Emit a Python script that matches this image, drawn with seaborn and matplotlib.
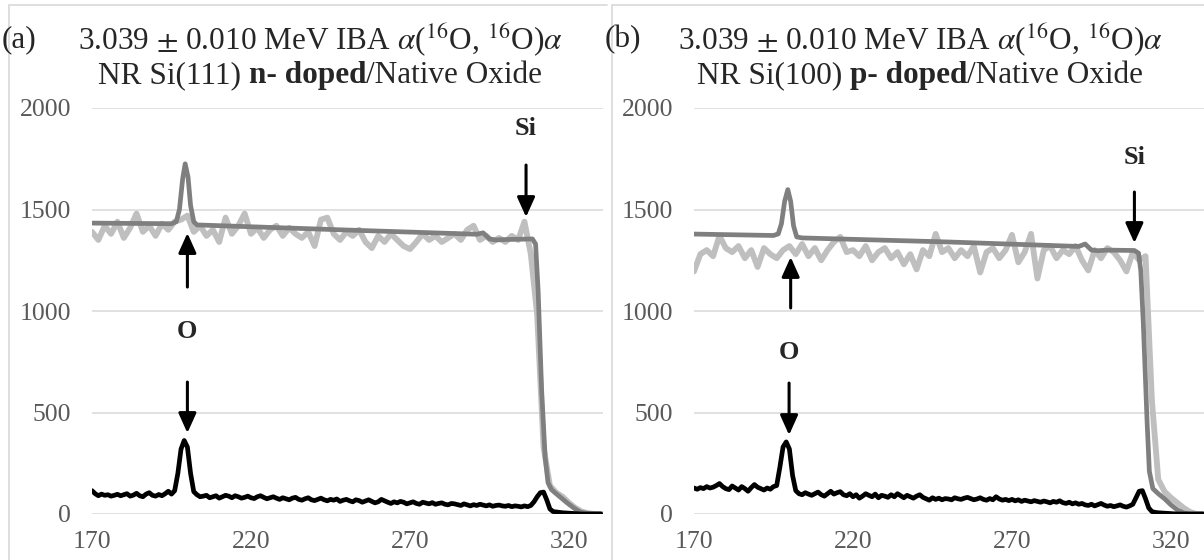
import numpy as np
import pandas as pd
import seaborn as sns
import matplotlib
matplotlib.use("Agg")
import matplotlib.pyplot as plt
from matplotlib.lines import Line2D

# channel grids
chan_fine = np.arange(170, 331)       # black curves, 1 channel step
chan_coarse = np.arange(170, 331, 2)  # light grey measured curves, 2 channel step

# (a) Si(111) n-doped
meas_a = [1390, 1350, 1420, 1380, 1440, 1360, 1410, 1480, 1390, 1420,
          1370, 1430, 1400, 1440, 1450, 1470, 1390, 1420, 1370, 1400,
          1340, 1460, 1380, 1420, 1480, 1380, 1410, 1360, 1400, 1420,
          1370, 1410, 1380, 1360, 1390, 1320, 1450, 1460, 1380, 1350,
          1390, 1370, 1400, 1340, 1310, 1370, 1340, 1380, 1350, 1320,
          1305, 1340, 1380, 1350, 1370, 1340, 1360, 1380, 1350, 1400,
          1420, 1350, 1370, 1340, 1360, 1340, 1370, 1350, 1440, 1280,
          980, 330, 140, 105, 85, 55, 30, 12, 4, 0,
          0]
sim_a_x = [170, 195, 196.5, 197.5, 198.5, 199.3, 200.2, 201, 202, 203,
           250, 291, 293, 295, 297, 300, 308.5, 309.5, 310.3, 311.4,
           312.5, 313.4, 314.5, 315.6, 317.5, 319.4, 321.5, 323.5, 326, 331]
sim_a_y = [1433, 1430, 1440, 1500, 1650, 1725, 1660, 1520, 1440, 1424,
           1399, 1378, 1385, 1355, 1350, 1352, 1355, 1330, 1100, 610,
           280, 155, 120, 105, 80, 55, 30, 10, 2, 0]
diff_a = [115, 100, 90, 98, 92, 95, 88, 92, 97, 90,
          95, 100, 88, 93, 102, 90, 85, 98, 105, 92,
          88, 96, 90, 100, 112, 98, 115, 200, 320, 362,
          330, 200, 110, 95, 85, 88, 92, 80, 85, 90,
          78, 85, 92, 88, 80, 90, 85, 78, 82, 88,
          80, 76, 85, 90, 82, 75, 80, 85, 78, 72,
          80, 75, 70, 78, 82, 72, 68, 75, 80, 70,
          66, 72, 78, 70, 65, 72, 68, 74, 62, 68,
          72, 65, 60, 70, 66, 58, 64, 70, 62, 55,
          60, 72, 65, 58, 52, 60, 55, 62, 58, 50,
          55, 60, 52, 48, 58, 54, 50, 56, 48, 52,
          55, 48, 45, 52, 50, 46, 42, 50, 45, 40,
          46, 42, 48, 44, 40, 45, 38, 42, 44, 40,
          38, 42, 36, 40, 38, 35, 40, 36, 42, 60,
          85, 105, 108, 70, 25, 12, 10, 8, 6, 5,
          4, 3, 2, 1, 0, 0, 0, 0, 0, 0,
          0]

# (b) Si(100) p-doped
meas_b = [1195, 1280, 1300, 1270, 1370, 1310, 1290, 1320, 1260, 1300,
          1217, 1310, 1280, 1260, 1300, 1320, 1280, 1330, 1270, 1310,
          1250, 1300, 1340, 1365, 1290, 1300, 1270, 1320, 1250, 1290,
          1310, 1260, 1290, 1230, 1280, 1205, 1300, 1270, 1380, 1290,
          1310, 1260, 1300, 1270, 1320, 1190, 1290, 1310, 1260, 1300,
          1375, 1240, 1290, 1380, 1160, 1300, 1320, 1260, 1300, 1280,
          1320, 1250, 1200, 1300, 1260, 1310, 1290, 1250, 1195, 1290,
          1250, 1270, 560, 170, 110, 80, 55, 30, 10, 0,
          0]
sim_b_x = [170, 195, 196.5, 197.5, 198.5, 199.5, 200.4, 201.3, 202.3, 204,
           250, 291, 293, 295, 297, 300, 308.5, 309.8, 310.5, 311.3,
           312.5, 313.2, 314.3, 316, 318, 320, 322, 324, 326, 331]
sim_b_y = [1379, 1372, 1380, 1430, 1540, 1598, 1540, 1420, 1365, 1360,
           1340, 1318, 1330, 1300, 1297, 1300, 1298, 1285, 1200, 940,
           450, 210, 125, 100, 75, 45, 20, 5, 0, 0]
diff_b = [128, 122, 130, 125, 135, 128, 132, 140, 150, 135,
          125, 120, 138, 128, 118, 135, 125, 112, 130, 145,
          132, 125, 118, 128, 122, 135, 140, 230, 330, 355,
          320, 190, 115, 100, 95, 105, 98, 92, 100, 108,
          95, 88, 100, 112, 98, 105, 110, 95, 90, 100,
          85, 95, 78, 88, 100, 92, 85, 98, 80, 92,
          88, 82, 95, 85, 100, 90, 80, 92, 85, 78,
          88, 95, 82, 75, 68, 80, 72, 78, 70, 76,
          74, 70, 80, 75, 72, 78, 82, 76, 70, 74,
          80, 72, 68, 76, 70, 85, 74, 68, 72, 66,
          72, 65, 70, 62, 68, 64, 60, 66, 62, 58,
          64, 60, 55, 62, 58, 65, 56, 52, 58, 50,
          55, 48, 52, 45, 42, 48, 40, 46, 52, 44,
          38, 42, 36, 40, 45, 38, 34, 40, 48, 80,
          112, 115, 75, 30, 12, 8, 6, 5, 4, 3,
          2, 1, 0, 0, 0, 0, 0, 0, 0, 0,
          0]

panels = [
    dict(tag="(a)", sample="NR Si(111)", dop="n- doped",
         meas=meas_a, sx=sim_a_x, sy=sim_a_y, diff=diff_a,
         si=(306.5, 1897, 1719, 1463), o_up=(200.0, 1118, 1384),
         o_txt=(200.0, 901), o_dn=(200.0, 650, 399)),
    dict(tag="(b)", sample="NR Si(100)", dop="p- doped",
         meas=meas_b, sx=sim_b_x, sy=sim_b_y, diff=diff_b,
         si=(308.5, 1757, 1586, 1335), o_up=(200.4, 1015, 1266),
         o_txt=(199.9, 798), o_dn=(199.9, 645, 389)),
]

sns.set_style("white")
plt.rcParams["font.family"] = ["Liberation Serif", "DejaVu Serif"]
plt.rcParams["mathtext.fontset"] = "stix"

W, H = 1204, 560
fig = plt.figure(figsize=(W / 100, H / 100), dpi=100)

axes_px = [(92, 603), (694, 1205)]
title_cx = [320, 920]
border_x = [9, 612]
tag_x = [2, 605]
tsize = 22.5

light, mid, dark = "#BFBFBF", "#7F7F7F", "#000000"
arrow = dict(arrowstyle="-|>,head_length=0.6,head_width=0.27", mutation_scale=20,
             lw=2.2, color="black", shrinkA=0, shrinkB=0)

for p, (x0, x1), cx, bx, tx in zip(panels, axes_px, title_cx, border_x, tag_x):
    ax = fig.add_axes([x0 / W, 1 - 514 / H, (x1 - x0) / W, (514 - 108) / H])

    df_meas = pd.DataFrame({"ch": chan_coarse, "counts": p["meas"]})
    df_sim = pd.DataFrame({"ch": p["sx"], "counts": p["sy"]})
    df_diff = pd.DataFrame({"ch": chan_fine, "counts": p["diff"]})
    sns.lineplot(data=df_meas, x="ch", y="counts", ax=ax, color=light, lw=4.2,
                 estimator=None, sort=False, solid_joinstyle="round")
    sns.lineplot(data=df_sim, x="ch", y="counts", ax=ax, color=mid, lw=3.4,
                 estimator=None, sort=False, solid_joinstyle="round")
    sns.lineplot(data=df_diff, x="ch", y="counts", ax=ax, color=dark, lw=3.4,
                 estimator=None, sort=False, solid_joinstyle="round")

    ax.set_xlim(170, 330.7)
    ax.set_ylim(0, 2000)
    ax.set_xticks([170, 220, 270, 320])
    ax.set_yticks([0, 500, 1000, 1500, 2000])
    ax.set_xlabel("")
    ax.set_ylabel("")
    ax.grid(axis="y", color="#D9D9D9", lw=1.1)
    ax.grid(axis="x", visible=False)
    ax.set_axisbelow(True)
    for s in ax.spines.values():
        s.set_visible(False)
    ax.tick_params(axis="both", length=0, labelsize=18.5, labelcolor="#595959")
    ax.tick_params(axis="y", pad=15)
    ax.tick_params(axis="x", pad=12)

    # element markers
    sx, st, s0, s1 = p["si"]
    ax.text(sx, st, "Si", ha="center", va="center", fontweight="bold", size=19)
    ax.annotate("", xy=(sx, s1), xytext=(sx, s0), arrowprops=arrow)
    ux, u0, u1 = p["o_up"]
    ax.annotate("", xy=(ux, u1), xytext=(ux, u0), arrowprops=arrow)
    ox, oy = p["o_txt"]
    ax.text(ox, oy, "O", ha="center", va="center", fontweight="bold", size=19)
    dx, d0, d1 = p["o_dn"]
    ax.annotate("", xy=(dx, d1), xytext=(dx, d0), arrowprops=arrow)

    # titles
    fig.text(tx / W, 1 - 40 / H, p["tag"], ha="left", va="center", size=tsize)
    fig.text(cx / W, 1 - 40 / H,
             r"3.039 $\pm$ 0.010 MeV IBA $\alpha$($^{16}$O, $^{16}$O)$\alpha$",
             ha="center", va="center", size=tsize)
    t1 = fig.text(cx / W, 1 - 90 / H, p["sample"], ha="left", va="bottom", size=tsize)
    t2 = ax.annotate(p["dop"], xy=(1, 0), xycoords=t1, xytext=(5.5, 0),
                     textcoords="offset points", ha="left", va="bottom",
                     size=tsize, fontweight="bold", annotation_clip=False)
    t3 = ax.annotate("/Native Oxide", xy=(1, 0), xycoords=t2, ha="left",
                     va="bottom", size=tsize, annotation_clip=False)
    fig.canvas.draw()
    r = fig.canvas.get_renderer()
    left = t1.get_window_extent(r).x0
    right = t3.get_window_extent(r).x1
    t1.set_x((cx - (right - left) / 2) / W)

    # chart-area border
    fig.add_artist(Line2D([bx / W, bx / W], [0, 1 - 5 / H], color="#D9D9D9", lw=1.2))
    fig.add_artist(Line2D([bx / W, (bx + 598) / W], [1 - 5 / H, 1 - 5 / H],
                          color="#D9D9D9", lw=1.2))

fig.savefig("out.png", dpi=100)
